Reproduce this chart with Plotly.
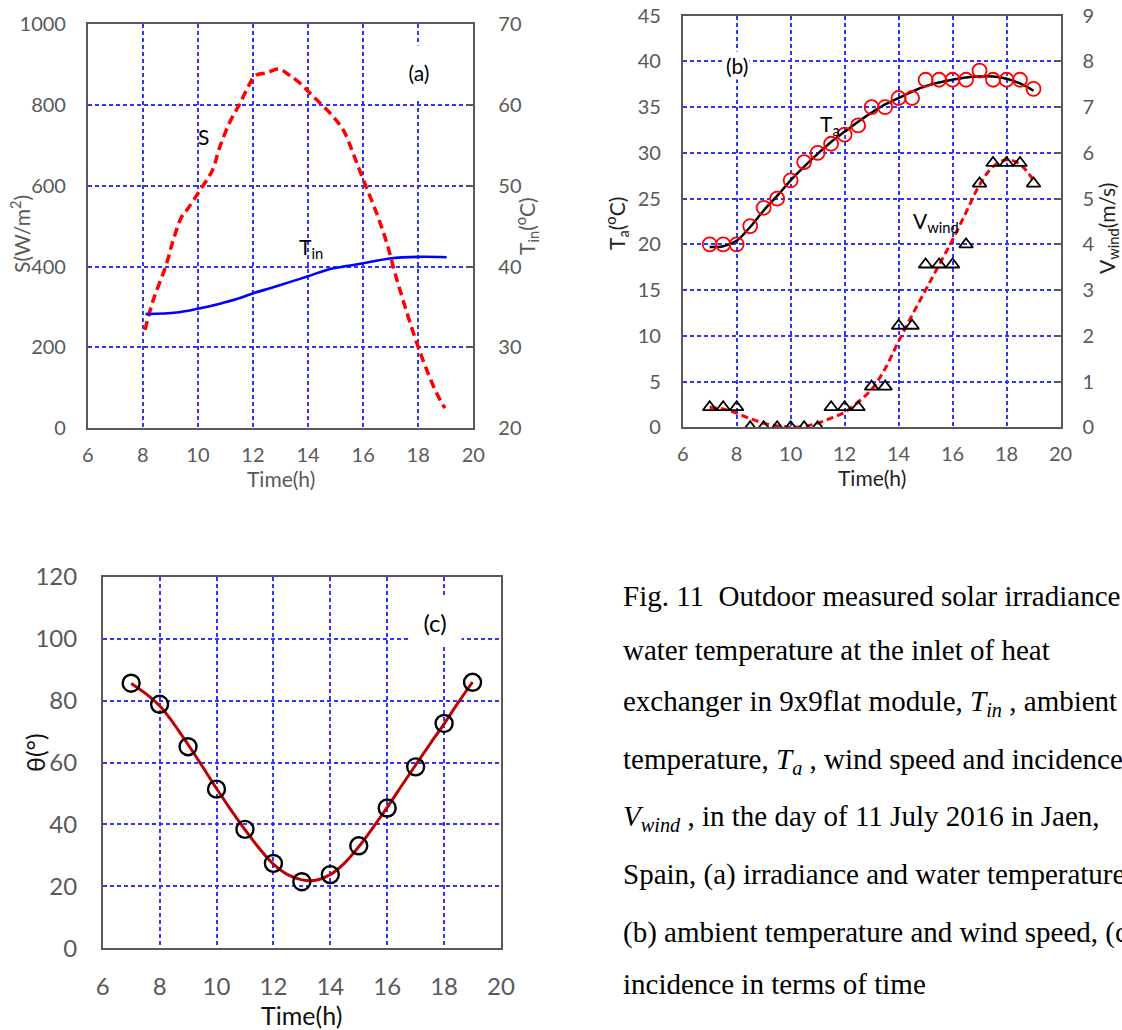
import plotly.graph_objects as go

# ---------------- data ----------------
# Panel (a): solar irradiance S (W/m2) and inlet water temperature T_in (degC)
a_time_S = [8.08, 8.38, 8.83, 9.11, 9.41, 9.62, 10.04, 10.44, 10.56, 10.8, 11.17, 11.53, 11.83,
            12.07, 12.5, 12.95, 13.3, 13.71, 14.19, 14.8, 15.28, 15.64, 16.01, 16.49, 16.86,
            17.16, 17.52, 17.95, 18.31, 18.67, 18.97]
a_S = [243, 317, 400, 466, 523, 542, 585, 627, 643, 697, 759, 804, 846,
       872, 880, 889, 875, 854, 821, 780, 738, 680, 614, 532, 458,
       383, 301, 210, 144, 86, 49]
a_time_T = [8.1, 9.23, 10.04, 10.8, 11.53, 12.01, 12.62, 13.0, 14.0, 14.8, 15.4, 16.01, 16.97, 18.01, 19.03]
a_Tin = [34.1, 34.3, 34.8, 35.4, 36.1, 36.7, 37.3, 37.7, 38.8, 39.7, 40.05, 40.4, 41.0, 41.2, 41.15]

# Panel (b): ambient temperature Ta (degC) and wind speed (m/s)
b_time = [7, 7.5, 8, 8.5, 9, 9.5, 10, 10.5, 11, 11.5, 12, 12.5, 13, 13.5, 14, 14.5,
          15, 15.5, 16, 16.5, 17, 17.5, 18, 18.5, 19]
b_Ta = [20, 20, 20, 22, 24, 25, 27, 29, 30, 31, 32, 33, 35, 35, 36, 36,
        38, 38, 38, 38, 39, 38, 38, 38, 37]
b_Ta_fit = [19.7, 19.8, 20.4, 21.9, 23.7, 25.3, 27.0, 28.5, 29.9, 31.2, 32.3, 33.4, 34.4, 35.3,
            36.0, 36.7, 37.3, 37.7, 38.0, 38.25, 38.35, 38.35, 38.1, 37.6, 36.8]
b_wind = [0.44, 0.44, 0.44, 0, 0, 0, 0, 0, 0, 0.44, 0.44, 0.44, 0.89, 0.89, 2.22, 2.22,
          3.56, 3.56, 3.56, 4.0, 5.33, 5.78, 5.78, 5.78, 5.33]
b_wind_fit = [0.44, 0.40, 0.31, 0.19, 0.09, 0.03, 0.0, 0.02, 0.09, 0.2, 0.33, 0.55, 0.83, 1.28,
              1.88, 2.45, 3.0, 3.55, 4.1, 4.7, 5.3, 5.7, 5.85, 5.75, 5.4]

# Panel (c): incidence angle theta (deg)
c_time = [7, 8, 9, 10, 11, 12, 13, 14, 15, 16, 17, 18, 19]
c_theta = [85.6, 78.8, 65.1, 51.4, 38.4, 27.4, 21.5, 23.8, 33.1, 45.3, 58.6, 72.6, 85.9]
c_time_fit = [7, 7.5, 8, 8.5, 9, 9.5, 10, 10.5, 11, 11.5, 12, 12.5, 13, 13.5, 14, 14.5,
              15, 15.5, 16, 16.5, 17, 17.5, 18, 18.5, 19]
c_theta_fit = [85.5, 82.3, 78.3, 72.5, 65.8, 58.8, 51.6, 44.8, 38.3, 32.3, 27.2, 23.8, 22.1, 22.0,
               23.8, 27.5, 32.8, 39.0, 45.5, 52.4, 59.2, 65.9, 72.5, 79.4, 86.0]

caption_lines = [
    "Fig. 11\u00a0 Outdoor measured solar irradiance",
    "water temperature at the inlet of heat",
    "exchanger in 9x9flat module, <i>T</i><sub><i>in</i></sub> , ambient",
    "temperature, <i>T</i><sub><i>a</i></sub> , wind speed and incidence",
    "<i>V</i><sub><i>wind</i></sub> , in the day of 11 July 2016 in Jaen,",
    "Spain, (a) irradiance and water temperature",
    "(b) ambient temperature and wind speed, (c",
    "incidence in terms of time",
]
caption_y_px = [596, 650, 703, 761, 818, 874, 932, 984]

# ---------------- figure ----------------
W, H = 1122, 1030
FONT = "Lato"
GRAY = "#595959"

def px_x(p):
    return p / W

def px_y(p):
    return 1 - p / H

fig = go.Figure()

# (a)
fig.add_trace(go.Scatter(x=a_time_S, y=a_S, xaxis="x", yaxis="y", mode="lines",
                         line=dict(color="#FF0000", width=3.5, dash="9px,5px", shape="spline"),
                         showlegend=False))
fig.add_trace(go.Scatter(x=a_time_T, y=a_Tin, xaxis="x", yaxis="y2", mode="lines",
                         line=dict(color="#0000FF", width=2.6, shape="spline"),
                         showlegend=False))
# (b)
fig.add_trace(go.Scatter(x=b_time, y=b_Ta_fit, xaxis="x2", yaxis="y3", mode="lines",
                         line=dict(color="#000000", width=2.5, shape="spline"),
                         showlegend=False))
fig.add_trace(go.Scatter(x=b_time, y=b_Ta, xaxis="x2", yaxis="y3", mode="markers",
                         marker=dict(symbol="circle-open", size=14, color="#FF0000",
                                     line=dict(width=1.8, color="#FF0000")),
                         showlegend=False))
fig.add_trace(go.Scatter(x=b_time, y=b_wind_fit, xaxis="x2", yaxis="y4", mode="lines",
                         line=dict(color="#FF0000", width=3, dash="7px,4px", shape="spline"),
                         showlegend=False))
fig.add_trace(go.Scatter(x=b_time, y=b_wind, xaxis="x2", yaxis="y4", mode="markers",
                         marker=dict(symbol="triangle-up-open", size=12, color="#000000",
                                     line=dict(width=1.8, color="#000000")),
                         showlegend=False))
# (c)
fig.add_trace(go.Scatter(x=c_time_fit, y=c_theta_fit, xaxis="x3", yaxis="y5", mode="lines",
                         line=dict(color="#C00000", width=3, shape="spline"),
                         showlegend=False))
fig.add_trace(go.Scatter(x=c_time, y=c_theta, xaxis="x3", yaxis="y5", mode="markers",
                         marker=dict(symbol="circle-open", size=17, color="#000000",
                                     line=dict(width=2.4, color="#000000")),
                         showlegend=False))

grid = dict(showgrid=True, gridcolor="#3333ff", gridwidth=1.8, griddash="4px,3px",
            zeroline=False, showline=True, linecolor=GRAY, linewidth=1.5, mirror=True,
            ticks="", automargin=False)

def xax(domain, anchor, fs, standoff):
    d = dict(grid)
    d.update(domain=domain, anchor=anchor, range=[6, 20], tick0=6, dtick=2,
             tickfont=dict(family=FONT, size=fs, color=GRAY), ticklabelstandoff=standoff)
    return d

def yax(domain, anchor, rng, dt, fs, standoff):
    d = dict(grid)
    d.update(domain=domain, anchor=anchor, range=rng, tick0=0, dtick=dt,
             tickfont=dict(family=FONT, size=fs, color=GRAY), ticklabelstandoff=standoff)
    return d

def yright(overlay, anchor, rng, dt, t0, fs, standoff):
    return dict(overlaying=overlay, anchor=anchor, side="right", range=rng, tick0=t0, dtick=dt,
                showgrid=False, zeroline=False, showline=False, ticks="inside", ticklen=6,
                tickcolor=GRAY, tickwidth=1.5, automargin=False,
                tickfont=dict(family=FONT, size=fs, color=GRAY), ticklabelstandoff=standoff)

a_dom_x = [px_x(87.7), px_x(473.3)]
a_dom_y = [px_y(428), px_y(24.3)]
b_dom_x = [px_x(682.7), px_x(1060.5)]
b_dom_y = [px_y(427.3), px_y(15.7)]
c_dom_x = [px_x(102.7), px_x(501)]
c_dom_y = [px_y(948.3), px_y(576.7)]

fig.update_layout(
    template="none",
    width=W, height=H, margin=dict(l=0, r=0, t=0, b=0, pad=0, autoexpand=False),
    paper_bgcolor="white", plot_bgcolor="white", showlegend=False,
    font=dict(family=FONT, color="#000000"),
    xaxis=xax(a_dom_x, "y", 20, 8),
    yaxis=yax(a_dom_y, "x", [0, 1000], 200, 20, 16),
    yaxis2=yright("y", "x", [20, 70], 10, 20, 20, 24),
    xaxis2=xax(b_dom_x, "y3", 20, 8),
    yaxis3=yax(b_dom_y, "x2", [0, 45], 5, 20, 16),
    yaxis4=yright("y3", "x2", [0, 9], 1, 0, 20, 21),
    xaxis3=xax(c_dom_x, "y5", 24, 16),
    yaxis5=yax(c_dom_y, "x3", [0, 120], 20, 24, 19),
)

ann = []

def title(text, xp, yp, size, color, angle=0):
    ann.append(dict(text=text, x=px_x(xp), y=px_y(yp), xref="paper", yref="paper",
                    xanchor="center", yanchor="middle", showarrow=False, textangle=angle,
                    font=dict(family=FONT, size=size, color=color)))

# axis titles
title("Time(h)", 280.5, 479, 21, GRAY)
title("S(W/m<sup>2</sup>)", 20, 234, 21, GRAY, -90)
title("T<sub>in</sub>(<sup>o</sup>C)", 527, 226, 21, GRAY, -90)
title("Time(h)", 871.6, 478, 21, "#222222")
title("T<sub>a</sub>(<sup>o</sup>C)", 617, 224, 21, "#222222", -90)
title("V<sub>wind</sub>(m/s)", 1108, 229, 21, "#222222", -90)
title("Time(h)", 301.9, 1015, 25, "#111111")
title("θ(°)", 35, 753, 25, "#111111", -90)

def label(text, x, y, xr, yr, size=20, bg=None, w=None, h=None):
    d = dict(text=text, x=x, y=y, xref=xr, yref=yr, xanchor="center", yanchor="middle",
             showarrow=False, font=dict(family=FONT, size=size, color="#000000"))
    if bg:
        d.update(bgcolor=bg)
    if w:
        d.update(width=w)
    if h:
        d.update(height=h)
    ann.append(d)

label("S", 10.22, 721, "x", "y", size=21)
label("T<sub>in</sub>", 14.1, 445, "x", "y", size=21)
label("(a)", 18.03, 882, "x", "y", size=21, bg="white", w=44, h=50)
label("T<sub>a</sub>", 11.44, 33.0, "x2", "y3", size=21)
label("V<sub>wind</sub>", 15.37, 22.5, "x2", "y3", size=21)
label("(b)", 8.0, 39.6, "x2", "y3", size=21, bg="white")
label("(c)", 17.68, 105.5, "x3", "y5", size=24, bg="white", w=50, h=46)

# caption
for line, yp in zip(caption_lines, caption_y_px):
    ann.append(dict(text=line, x=px_x(621), y=px_y(yp), xref="paper", yref="paper",
                    xanchor="left", yanchor="middle", showarrow=False,
                    font=dict(family="Liberation Serif", size=29, color="#000000")))

fig.update_layout(annotations=ann)

fig.write_html("out.html")
